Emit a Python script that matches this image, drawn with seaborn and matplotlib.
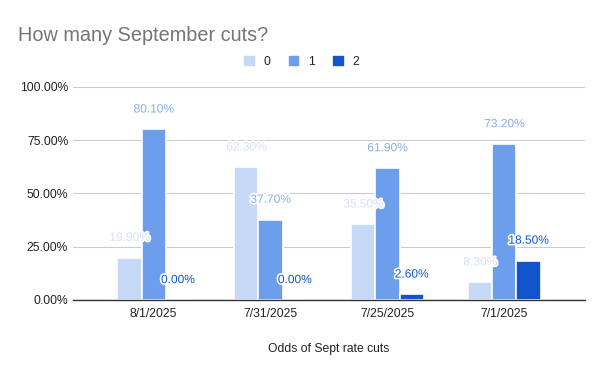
import matplotlib.pyplot as plt
import matplotlib.patheffects as pe
import pandas as pd
import seaborn as sns
from matplotlib.ticker import PercentFormatter

dates = ['8/1/2025', '7/31/2025', '7/25/2025', '7/1/2025']
cuts = ['0', '1', '2']
odds_0 = [0.199, 0.623, 0.355, 0.083]
odds_1 = [0.801, 0.377, 0.619, 0.732]
odds_2 = [0.0, 0.0, 0.026, 0.185]

colors = ['#c6d9f6', '#6d9eeb', '#1155cc']
label_colors = ['#d3e1f7', '#86aeee', '#1155cc']

df = pd.DataFrame({
    'date': dates * 3,
    'cuts': [c for c in cuts for _ in dates],
    'odds': odds_0 + odds_1 + odds_2,
})

sns.set_theme(style='white')
plt.rcParams['font.family'] = ['Liberation Sans', 'DejaVu Sans']

fig = plt.figure(figsize=(6, 3.71), dpi=100)
ax = fig.add_axes([0.1217, 0.1914, 0.8533, 0.5741])

sns.barplot(data=df, x='date', y='odds', hue='cuts', order=dates, hue_order=cuts,
            palette=colors, saturation=1, width=0.62, edgecolor='white',
            linewidth=1.2, legend=False, ax=ax)

for cont, lc in zip(ax.containers, label_colors):
    vals = [b.get_height() for b in cont]
    ax.bar_label(cont, labels=[f'{v * 100:.2f}%' for v in vals], padding=10,
                 fontsize=8.6, color=lc,
                 path_effects=[pe.withStroke(linewidth=2.5, foreground='white')])

ax.set_ylim(0, 1)
ax.set_xlim(-0.69, 3.69)
ax.set_yticks([0, 0.25, 0.5, 0.75, 1.0])
ax.yaxis.set_major_formatter(PercentFormatter(1.0, decimals=2))
ax.grid(axis='y', color='#cccccc', linewidth=0.8)
ax.set_axisbelow(True)
for s in ['top', 'right', 'left']:
    ax.spines[s].set_visible(False)
ax.spines['bottom'].set_color('#333333')
ax.spines['bottom'].set_linewidth(1)
ax.tick_params(axis='both', length=0, labelsize=8.7, colors='#222222')
ax.tick_params(axis='x', pad=6)
ax.set_ylabel('')
ax.set_xlabel('Odds of Sept rate cuts', fontsize=8.7, color='#222222', labelpad=16)

fig.text(0.03, 0.905, 'How many September cuts?', fontsize=14.3, color='#757575',
         va='center', ha='left')

handles = [plt.Rectangle((0, 0), 1, 1, color=c) for c in colors]
fig.legend(handles, cuts, loc='center', bbox_to_anchor=(0.503, 0.833), ncol=3,
           frameon=False, fontsize=8.7, handlelength=0.8, handleheight=0.8,
           handletextpad=0.8, columnspacing=1.5, labelcolor='#222222')

fig.savefig('out.png', dpi=100, facecolor='white')
